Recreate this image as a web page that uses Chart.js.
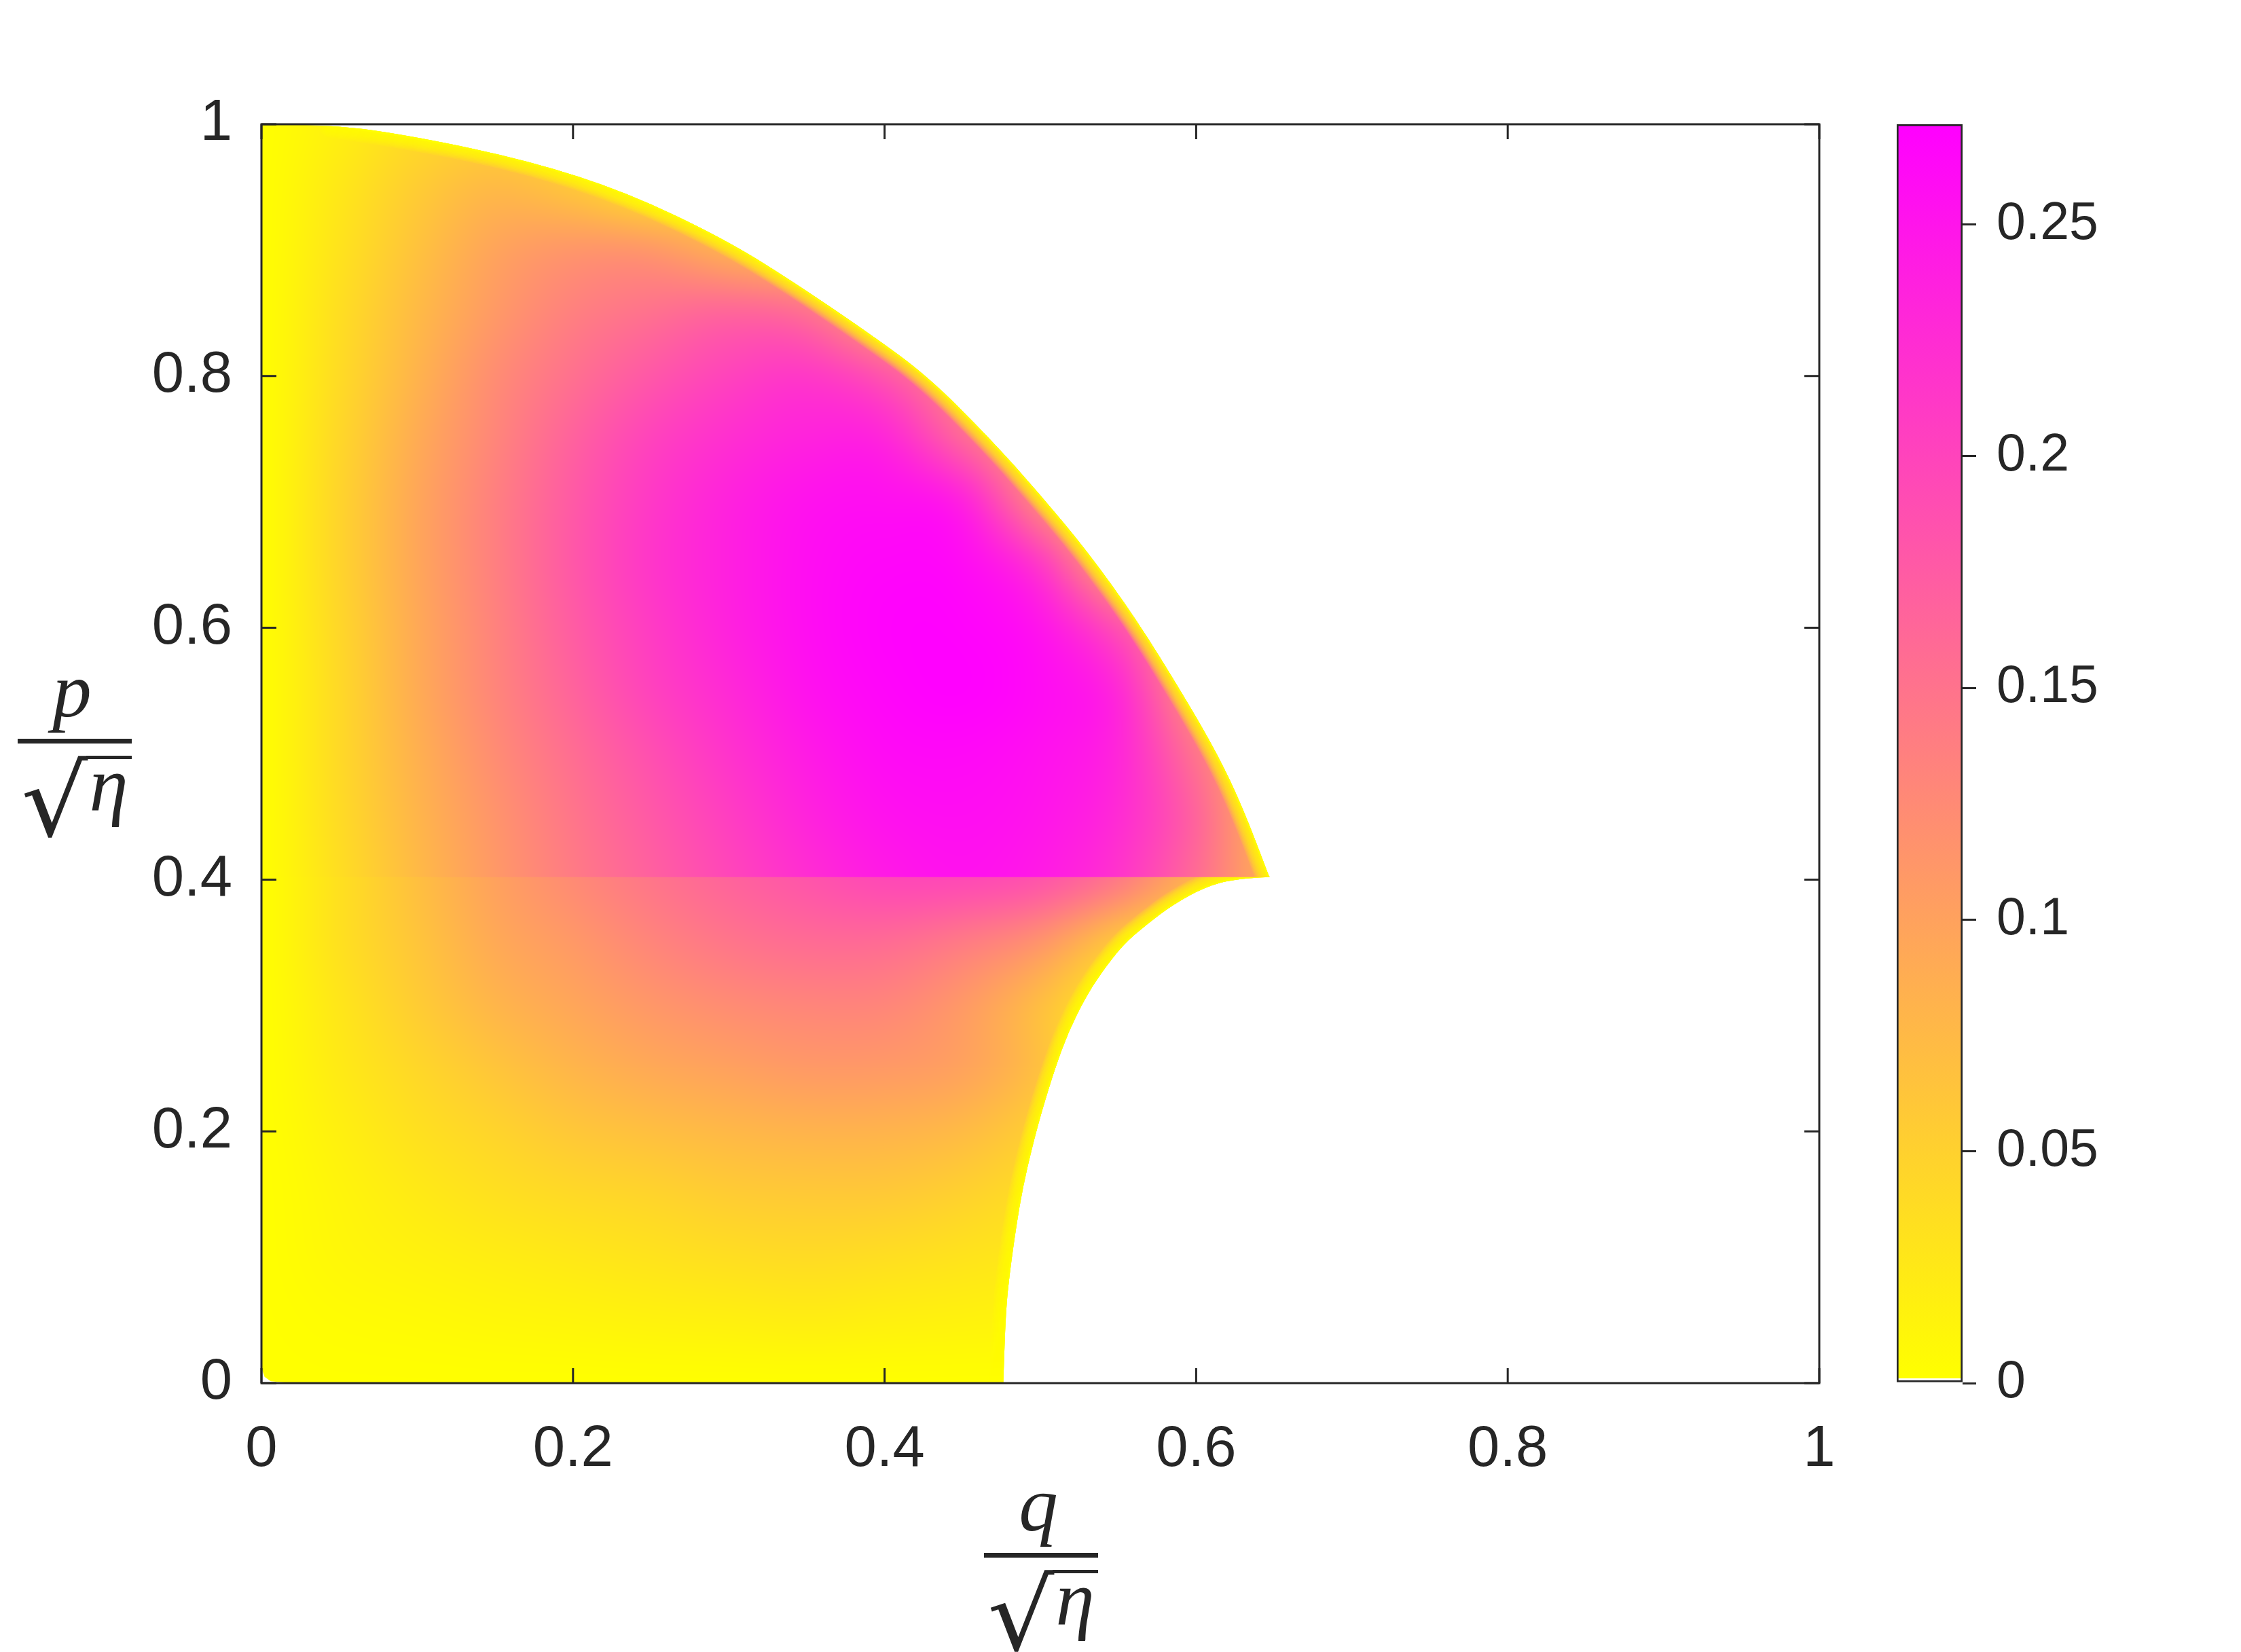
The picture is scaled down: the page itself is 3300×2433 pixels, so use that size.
<!DOCTYPE html>
<html>
<head>
<meta charset="utf-8">
<script src="https://cdn.jsdelivr.net/npm/chart.js@4.4.1/dist/chart.umd.min.js"></script>
<style>
  html, body { margin: 0; padding: 0; background: #fff; }
  #wrap { position: relative; width: 3300px; height: 2433px; }
  #main { position: absolute; left: 0; top: 0; }
  #cbar { position: absolute; left: 2700px; top: 0; }
</style>
</head>
<body>
<div id="wrap">
  <canvas id="main" width="3300" height="2433"></canvas>
  <canvas id="cbar" width="600" height="2433"></canvas>
</div>
<script>
// grid nodes (q / sqrt(eta) across, p / sqrt(eta) up)
const qNodes = [0, 0.05, 0.1, 0.15, 0.2, 0.25, 0.3, 0.35, 0.4, 0.45, 0.5, 0.55, 0.6, 0.65];
const pUpper = [0.40, 0.45, 0.50, 0.55, 0.60, 0.65, 0.70, 0.75, 0.80, 0.85, 0.90, 0.95, 1.00];
const pLower = [0.00, 0.05, 0.10, 0.15, 0.20, 0.25, 0.30, 0.35, 0.40];

// values above the jump at p = 0.4 (one row per pUpper)
const valUpper = [
  [0, .035, .073, .109, .141, .168, .196, .223, .244, .253, .244, .217, .158, .081],
  [0, .038, .079, .114, .147, .177, .206, .234, .253, .258, .250, .228, .168, .068],
  [0, .041, .084, .122, .155, .187, .217, .244, .261, .263, .255, .234, .149, .054],
  [0, .041, .090, .130, .166, .201, .228, .253, .266, .272, .261, .234, .109, .041],
  [0, .043, .092, .133, .174, .209, .236, .258, .269, .269, .253, .190, .081, .027],
  [0, .046, .095, .136, .179, .215, .239, .258, .266, .263, .217, .081, .027, .027],
  [0, .046, .095, .136, .177, .212, .236, .253, .258, .244, .122, .027, .027, .027],
  [0, .043, .090, .130, .168, .201, .223, .236, .236, .163, .081, .027, .027, .027],
  [0, .038, .081, .122, .152, .179, .201, .215, .185, .109, .027, .027, .027, .027],
  [0, .035, .073, .109, .136, .152, .168, .158, .081, .027, .027, .027, .027, .027],
  [0, .030, .065, .098, .114, .114, .081, .054, .027, .027, .027, .027, .027, .027],
  [0, .024, .054, .076, .060, .027, .027, .027, .027, .027, .027, .027, .027, .027],
  [0, .016, .038, .043, .027, .027, .027, .027, .027, .027, .027, .027, .027, .027]
];

// values below the jump (one row per pLower)
const valLower = [
  [0, 0, 0, 0, 0, 0, 0, 0, 0, 0, 0, 0, 0, 0],
  [0, .003, .005, .008, .011, .014, .016, .019, .016, .014, .011, .003, 0, 0],
  [0, .008, .014, .019, .024, .030, .035, .038, .035, .030, .022, .005, 0, 0],
  [0, .011, .022, .033, .041, .046, .054, .057, .057, .049, .033, .005, 0, 0],
  [0, .016, .033, .046, .060, .068, .076, .081, .081, .073, .049, .005, 0, 0],
  [0, .022, .043, .062, .079, .092, .100, .109, .109, .100, .068, .005, 0, 0],
  [0, .027, .054, .079, .095, .111, .122, .130, .130, .109, .068, .014, 0, 0],
  [0, .033, .062, .092, .109, .130, .147, .158, .158, .141, .114, .054, .014, 0],
  [0, .033, .068, .100, .125, .147, .166, .182, .196, .196, .185, .147, .081, .041]
];

// outer boundary of the upper lobe
const arcQ = [0, 0.045, 0.100, 0.172, 0.2345, 0.297, 0.340, 0.390, 0.4276, 0.468, 0.499, 0.530, 0.5615, 0.5925, 0.614, 0.630, 0.647];
const arcP = [1.000, 1.000, 0.990, 0.971, 0.946, 0.909, 0.876, 0.834, 0.800, 0.750, 0.707, 0.661, 0.607, 0.545, 0.499, 0.457, 0.402];
// boundary of the lower part, from the cusp down to the q axis
const lowQ = [0.647, 0.626, 0.6055, 0.5846, 0.568, 0.5534, 0.5388, 0.5284, 0.518, 0.5096, 0.5012, 0.495, 0.4887, 0.4845, 0.4804, 0.4778, 0.4762];
const lowP = [0.402, 0.401, 0.394, 0.3797, 0.364, 0.3488, 0.3255, 0.3049, 0.279, 0.2508, 0.2172, 0.1888, 0.1553, 0.1243, 0.0882, 0.0572, 0.000];
// rounded corner at the origin
const cornerQ = [0.020, 0.006, 0.002, 0];
const cornerP = [0, 0.0015, 0.005, 0.012];

const SEAM = 0.402;
const VMAX = 0.2716;
const xTicks = [0, 0.2, 0.4, 0.6, 0.8, 1];
const yTicks = [0, 0.2, 0.4, 0.6, 0.8, 1];
const cTicks = [0, 0.05, 0.1, 0.15, 0.2, 0.25];

const INK = '#262626';
const SANS = '"Liberation Sans", Arial, sans-serif';

// flipped "spring" map: yellow at 0, magenta at VMAX
function colourOf(v) {
  const f = Math.max(0, Math.min(1, v / VMAX));
  return [255, Math.round(255 * (1 - f)), Math.round(255 * f)];
}

function gridImage(vals) {
  const c = document.createElement('canvas');
  c.width = qNodes.length;
  c.height = vals.length;
  const g = c.getContext('2d');
  const img = g.createImageData(c.width, c.height);
  for (let r = 0; r < vals.length; r++) {
    const row = vals[vals.length - 1 - r];
    for (let k = 0; k < qNodes.length; k++) {
      const rgb = colourOf(row[k]);
      const i = (r * c.width + k) * 4;
      img.data[i] = rgb[0];
      img.data[i + 1] = rgb[1];
      img.data[i + 2] = rgb[2];
      img.data[i + 3] = 255;
    }
  }
  g.putImageData(img, 0, 0);
  return c;
}

const imgUpper = gridImage(valUpper);
const imgLower = gridImage(valLower);

function toPx(chart, qs, ps) {
  const { x, y } = chart.scales;
  return qs.map((q, i) => [x.getPixelForValue(q), y.getPixelForValue(ps[i])]);
}

// smooth path through the points (midpoint quadratic)
function trace(ctx, pts, move) {
  if (move) ctx.moveTo(pts[0][0], pts[0][1]);
  else ctx.lineTo(pts[0][0], pts[0][1]);
  for (let i = 1; i < pts.length - 1; i++) {
    const mx = (pts[i][0] + pts[i + 1][0]) / 2;
    const my = (pts[i][1] + pts[i + 1][1]) / 2;
    ctx.quadraticCurveTo(pts[i][0], pts[i][1], mx, my);
  }
  const last = pts[pts.length - 1];
  ctx.lineTo(last[0], last[1]);
}

function drawGrid(chart, img, rows) {
  const { ctx, scales: { x, y } } = chart;
  const dq = qNodes[1] - qNodes[0];
  const dp = rows[1] - rows[0];
  const x0 = x.getPixelForValue(qNodes[0] - dq / 2);
  const x1 = x.getPixelForValue(qNodes[qNodes.length - 1] + dq / 2);
  const y0 = y.getPixelForValue(rows[rows.length - 1] + dp / 2);
  const y1 = y.getPixelForValue(rows[0] - dp / 2);
  ctx.imageSmoothingEnabled = true;
  ctx.imageSmoothingQuality = 'high';
  ctx.drawImage(img, x0, y0, x1 - x0, y1 - y0);
}

// thin yellow fade along the curved edges (value drops to 0 there)
function drawRim(ctx, pts) {
  ctx.lineJoin = 'round';
  ctx.lineCap = 'round';
  for (let k = 10; k >= 1; k--) {
    ctx.beginPath();
    trace(ctx, pts, true);
    ctx.lineWidth = 4 * k;
    ctx.strokeStyle = 'rgba(255,255,0,0.17)';
    ctx.stroke();
  }
  ctx.beginPath();
  trace(ctx, pts, true);
  ctx.lineWidth = 5;
  ctx.strokeStyle = 'rgba(255,255,0,0.8)';
  ctx.stroke();
}

const heatmap = {
  id: 'heatmap',
  beforeDatasetsDraw(chart) {
    const { ctx, scales: { x, y } } = chart;
    const arc = toPx(chart, arcQ, arcP);
    const low = toPx(chart, lowQ, lowP);
    const corner = toPx(chart, cornerQ, cornerP);
    const seamLo = y.getPixelForValue(SEAM) - 1.5;

    // lower part first, its top edge tucked under the upper part
    ctx.save();
    ctx.beginPath();
    ctx.moveTo(x.getPixelForValue(0), seamLo);
    ctx.lineTo(low[0][0], seamLo);
    trace(ctx, low, false);
    corner.forEach(pt => ctx.lineTo(pt[0], pt[1]));
    ctx.closePath();
    ctx.clip();
    drawGrid(chart, imgLower, pLower);
    drawRim(ctx, low);
    ctx.restore();

    ctx.save();
    ctx.beginPath();
    ctx.moveTo(x.getPixelForValue(0), y.getPixelForValue(SEAM));
    trace(ctx, arc, false);
    ctx.closePath();
    ctx.clip();
    drawGrid(chart, imgUpper, pUpper);
    drawRim(ctx, arc.slice(1));
    ctx.restore();
  }
};

const axesBox = {
  id: 'axesBox',
  afterDatasetsDraw(chart) {
    const { ctx, chartArea: a, scales: { x, y } } = chart;
    const len = 22;
    ctx.save();
    ctx.strokeStyle = INK;
    ctx.lineWidth = 3;
    ctx.beginPath();
    xTicks.forEach(t => {
      const px = x.getPixelForValue(t);
      ctx.moveTo(px, a.bottom); ctx.lineTo(px, a.bottom - len);
      ctx.moveTo(px, a.top); ctx.lineTo(px, a.top + len);
    });
    yTicks.forEach(t => {
      const py = y.getPixelForValue(t);
      ctx.moveTo(a.left, py); ctx.lineTo(a.left + len, py);
      ctx.moveTo(a.right, py); ctx.lineTo(a.right - len, py);
    });
    ctx.stroke();
    ctx.strokeRect(a.left, a.top, a.right - a.left, a.bottom - a.top);
    ctx.restore();
  }
};

// sym / sqrt(eta) drawn as a stacked fraction
function drawFrac(ctx, cx, barY, sym) {
  ctx.save();
  ctx.fillStyle = INK;
  ctx.textBaseline = 'alphabetic';
  ctx.textAlign = 'center';
  ctx.font = 'italic 115px "Liberation Serif"';
  ctx.fillText(sym, cx - 4, barY - 36);
  ctx.fillRect(cx - 84, barY - 3, 168, 7);

  // radical sign fitted into its box
  ctx.font = '120px "DejaVu Serif"';
  ctx.textAlign = 'left';
  const m = ctx.measureText('\u221A');
  const gw = m.actualBoundingBoxLeft + m.actualBoundingBoxRight;
  const gh = m.actualBoundingBoxAscent + m.actualBoundingBoxDescent;
  const bx0 = cx - 75, bx1 = cx + 20, by0 = barY + 22, by1 = barY + 144;
  ctx.save();
  ctx.translate(bx0, by0);
  ctx.scale((bx1 - bx0) / gw, (by1 - by0) / gh);
  ctx.fillText('\u221A', m.actualBoundingBoxLeft, m.actualBoundingBoxAscent);
  ctx.restore();
  ctx.fillRect(bx1 - 3, barY + 22, cx + 84 - (bx1 - 3), 5);

  ctx.textAlign = 'center';
  ctx.font = 'italic 115px "Liberation Serif"';
  ctx.fillText('\u03B7', cx + 50, barY + 103);
  ctx.restore();
}

const axisTitles = {
  id: 'axisTitles',
  afterDraw(chart) {
    const { ctx, chartArea: a } = chart;
    const midX = (a.left + a.right) / 2;
    const midY = (a.top + a.bottom) / 2;
    drawFrac(ctx, midX + 1, a.bottom + 253, 'q');
    drawFrac(ctx, 110, midY - 19, 'p');
  }
};

new Chart(document.getElementById('main'), {
  type: 'scatter',
  data: {
    datasets: [{
      data: arcQ.map((q, i) => ({ x: q, y: arcP[i] })),
      pointRadius: 0,
      showLine: false
    }]
  },
  options: {
    responsive: false,
    animation: false,
    devicePixelRatio: 1,
    layout: { padding: { left: 0, top: 183, right: 621, bottom: 0 } },
    plugins: { legend: { display: false }, tooltip: { enabled: false } },
    scales: {
      x: {
        type: 'linear', min: 0, max: 1,
        afterBuildTicks: s => { s.ticks = xTicks.map(v => ({ value: v })); },
        afterFit: s => { s.height = 396; },
        grid: { display: false },
        border: { display: false },
        ticks: { font: { family: SANS, size: 85 }, color: INK, padding: 40, maxRotation: 0, callback: v => String(v) }
      },
      y: {
        type: 'linear', min: 0, max: 1,
        afterBuildTicks: s => { s.ticks = yTicks.map(v => ({ value: v })); },
        afterFit: s => { s.width = 385; },
        grid: { display: false },
        border: { display: false },
        ticks: { font: { family: SANS, size: 85 }, color: INK, padding: 35, callback: v => String(v) }
      }
    }
  },
  plugins: [heatmap, axesBox, axisTitles]
});

function barGradient(chart) {
  const a = chart.chartArea;
  if (!a) return null;
  const g = chart.ctx.createLinearGradient(0, a.bottom, 0, a.top);
  const w = 1 / 256;
  g.addColorStop(0, '#ffffff');
  g.addColorStop(w, '#ffffff');
  g.addColorStop(w, '#ffff00');
  g.addColorStop(1, '#ff00ff');
  return g;
}

new Chart(document.getElementById('cbar'), {
  type: 'bar',
  data: {
    labels: [''],
    datasets: [{
      data: [[0, VMAX]],
      backgroundColor: ctx => barGradient(ctx.chart),
      borderColor: INK,
      borderWidth: 3,
      borderSkipped: false,
      barPercentage: 1,
      categoryPercentage: 1
    }]
  },
  options: {
    responsive: false,
    animation: false,
    devicePixelRatio: 1,
    layout: { padding: { left: 93, top: 183, right: 110, bottom: 396 } },
    plugins: { legend: { display: false }, tooltip: { enabled: false } },
    scales: {
      x: { display: false },
      y: {
        position: 'right', min: 0, max: VMAX,
        afterBuildTicks: s => { s.ticks = cTicks.map(v => ({ value: v })); },
        afterFit: s => { s.width = 300; },
        grid: { drawOnChartArea: false, tickLength: 20, color: INK, lineWidth: 3 },
        border: { display: false },
        ticks: { font: { family: SANS, size: 77 }, color: INK, padding: 30, callback: v => String(v) }
      }
    }
  }
});
</script>
</body>
</html>
